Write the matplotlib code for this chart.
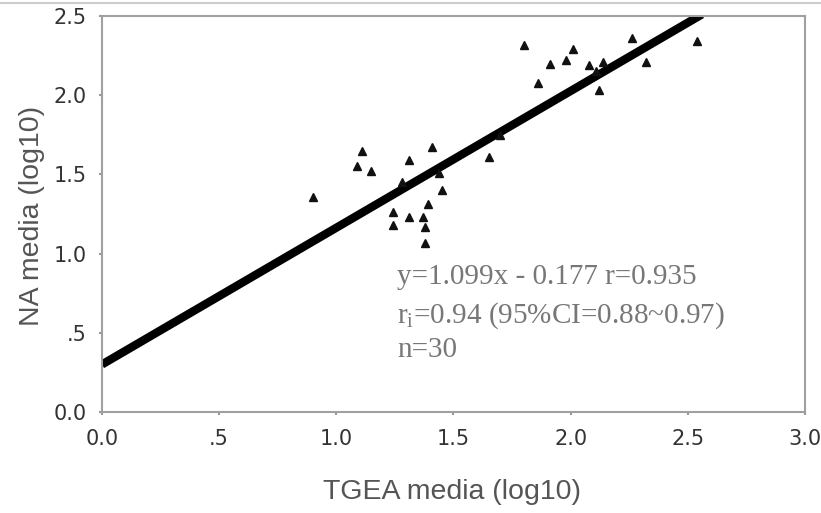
import matplotlib.pyplot as plt
from matplotlib.lines import Line2D

# TGEA (x) vs NA (y), log10
tgea = [0.90, 1.09, 1.11, 1.15, 1.31, 1.41, 1.28, 1.45, 1.24, 1.24,
        1.31, 1.37, 1.39, 1.38, 1.38, 1.44, 1.65, 1.70, 1.80, 1.91,
        1.86, 1.98, 2.01, 2.08, 2.12, 2.14, 2.11, 2.26, 2.32, 2.54]
na = [1.36, 1.55, 1.65, 1.52, 1.59, 1.67, 1.45, 1.40, 1.26, 1.18,
      1.23, 1.23, 1.31, 1.17, 1.07, 1.51, 1.61, 1.75, 2.32, 2.20,
      2.08, 2.22, 2.29, 2.19, 2.03, 2.21, 2.15, 2.36, 2.21, 2.34]

# fitted line as drawn
fit_x = [0.0, 2.56]
fit_y = [0.30, 2.51]

xticks = [0, 0.5, 1.0, 1.5, 2.0, 2.5, 3.0]
xticklabels = ['0.0', '.5', '1.0', '1.5', '2.0', '2.5', '3.0']
yticks = [0, 0.5, 1.0, 1.5, 2.0, 2.5]
yticklabels = ['0.0', '.5', '1.0', '1.5', '2.0', '2.5']

stats = ['y=1.099x - 0.177 r=0.935',
         r'r$_\mathregular{i}$=0.94 (95%CI=0.88~0.97)',
         'n=30']

fig = plt.figure(figsize=(8.21, 5.13), dpi=100)
ax = fig.add_axes([0.1242, 0.1969, 0.8563, 0.7719])

ax.plot(fit_x, fit_y, color='black', linewidth=6, solid_capstyle='butt')
ax.plot(tgea, na, linestyle='none', marker='^', color='#111111',
        markersize=6)

ax.set_xlim(0, 3.0)
ax.set_ylim(0, 2.5)
ax.set_xticks(xticks)
ax.set_xticklabels(xticklabels)
ax.set_yticks(yticks)
ax.set_yticklabels(yticklabels)
ax.tick_params(axis='both', length=2, width=1.5, color='#999999',
               labelsize=15, labelcolor='#333333', pad=10)
ax.tick_params(axis='y', pad=9)

for sp in ax.spines.values():
    sp.set_color('#a0a0a0')
    sp.set_linewidth(1.5)

text_y = [0.85, 0.61, 0.39]
for s, ty in zip(stats, text_y):
    ax.text(1.26, ty, s, family='Liberation Serif', fontsize=21,
            color='#777777', va='center', ha='left')

fig.text(0.551, 0.04, 'TGEA media (log10)', family='Liberation Sans',
         fontsize=20.5, color='#555555', ha='center', va='center')
fig.text(0.039, 0.58, 'NA media (log10)', family='Liberation Sans',
         fontsize=20.5, color='#555555', ha='center', va='center',
         rotation=90)

fig.add_artist(Line2D([0, 1], [1 - 3 / 513, 1 - 3 / 513],
                      transform=fig.transFigure, color='#cccccc',
                      linewidth=1.5))

fig.savefig('out.png', dpi=100)
